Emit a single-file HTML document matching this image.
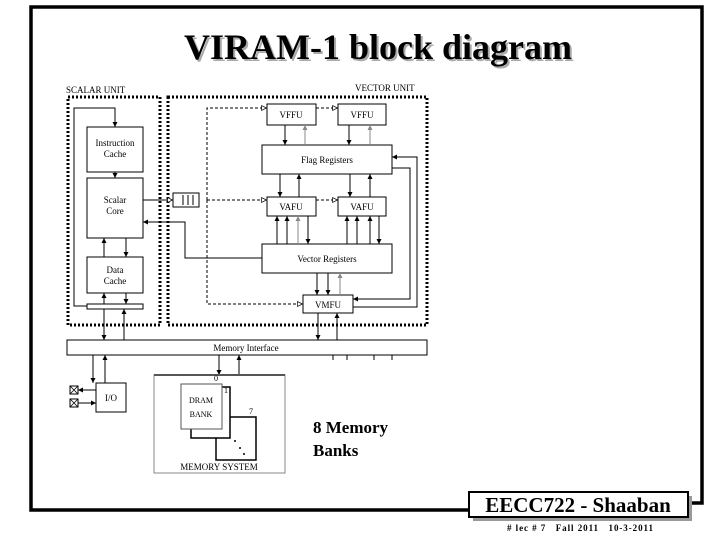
<!DOCTYPE html>
<html><head><meta charset="utf-8"><style>
html,body{margin:0;padding:0;background:#fff;}
svg{display:block;}
text{font-family:"Liberation Serif",serif;}
</style></head><body>
<svg width="720" height="540" viewBox="0 0 720 540" xmlns="http://www.w3.org/2000/svg">
<defs>
<marker id="a" viewBox="0 0 10 10" refX="10" refY="5" markerWidth="5" markerHeight="5" orient="auto"><path d="M0,0L10,5L0,10z" fill="#000"/></marker>
<marker id="g" viewBox="0 0 10 10" refX="10" refY="5" markerWidth="5" markerHeight="5" orient="auto"><path d="M0,0L10,5L0,10z" fill="#888"/></marker>
<marker id="o" viewBox="0 0 10 10" refX="10" refY="5" markerWidth="6" markerHeight="6" orient="auto"><path d="M1,1L9,5L1,9z" fill="#fff" stroke="#000" stroke-width="1.2"/></marker>
</defs>
<path d="M469,510 H31 V7 H702 V503 H688" fill="none" stroke="#000" stroke-width="3.5"/>
<text x="380" y="61" text-anchor="middle" font-size="36" font-weight="bold" fill="#aaa">VIRAM-1 block diagram</text>
<text x="378" y="59" text-anchor="middle" font-size="36" font-weight="bold">VIRAM-1 block diagram</text>

<g font-size="9">
<text x="66" y="93">SCALAR UNIT</text>
<text x="355" y="91">VECTOR UNIT</text>
</g>
<g fill="none" stroke="#000" stroke-width="3" stroke-dasharray="2,2">
<rect x="68" y="97" width="92" height="228"/>
<rect x="168" y="97" width="259" height="228"/>
</g>
<g fill="#fff" stroke="#000" stroke-width="1">
<rect x="87" y="127" width="56" height="45"/>
<rect x="87" y="178" width="56" height="60"/>
<rect x="87" y="257" width="56" height="36"/>
<rect x="87" y="304" width="56" height="5"/>
<rect x="267" y="104" width="49" height="21"/>
<rect x="338" y="104" width="48" height="21"/>
<rect x="262" y="145" width="130" height="29"/>
<rect x="267" y="197" width="49" height="19"/>
<rect x="338" y="197" width="48" height="19"/>
<rect x="262" y="244" width="130" height="29"/>
<rect x="303" y="295" width="50" height="18"/>
<rect x="67" y="340" width="360" height="15"/>
<rect x="173" y="193" width="26" height="14"/>
</g>
<g stroke="#000" stroke-width="1"><path d="M183,195V205M188,195V205M193,195V205"/></g>
<g font-size="9" text-anchor="middle">
<text x="115" y="146">Instruction</text><text x="115" y="157">Cache</text>
<text x="115" y="203">Scalar</text><text x="115" y="214">Core</text>
<text x="115" y="273">Data</text><text x="115" y="284">Cache</text>
<text x="291" y="118">VFFU</text><text x="362" y="118">VFFU</text>
<text x="327" y="163">Flag Registers</text>
<text x="291" y="210">VAFU</text><text x="362" y="210">VAFU</text>
<text x="327" y="262">Vector Registers</text>
<text x="328" y="308">VMFU</text>
<text x="246" y="351">Memory Interface</text>
</g>
<g fill="none" stroke="#000" stroke-width="1" marker-end="url(#a)">
<path d="M87,306H74V108H115V127"/>
<path d="M115,172V178"/>
<path d="M104,257V238"/><path d="M126,238V257"/>
<path d="M104,304V293"/><path d="M126,293V304"/>
<path d="M104,309V340"/><path d="M124,340V309"/>
<path d="M143,200H173" marker-end="url(#o)"/>
<path d="M262,258H185V222H143"/>
<path d="M285,125V145"/><path d="M349,125V145"/>
<path d="M280,174V197"/><path d="M299,197V174"/>
<path d="M350,174V197"/><path d="M370,197V174"/>
<path d="M277,244V216"/><path d="M287,244V216"/><path d="M308,216V244"/>
<path d="M347,244V216"/><path d="M357,244V216"/><path d="M370,244V216"/><path d="M379,216V244"/>
<path d="M317,273V295"/><path d="M328,273V295"/>
<path d="M318,313V340"/><path d="M337,340V313"/>
<path d="M392,168H410V299H353"/>
<path d="M353,307H417V157H392"/>
<path d="M93,355V383"/><path d="M105,383V355"/>
<path d="M219,355V375"/><path d="M239,375V355"/>
</g>
<g fill="none" stroke="#888" stroke-width="1" marker-end="url(#g)">
<path d="M305,145V125"/><path d="M370,145V125"/><path d="M298,244V216"/><path d="M340,295V273"/>
</g>
<g fill="none" stroke="#000" stroke-width="1" stroke-dasharray="3,2" marker-end="url(#o)">
<path d="M207,200H267"/><path d="M316,200H338"/>
<path d="M207,200V108H267"/><path d="M316,108H338"/>
<path d="M207,200V304H303"/>
</g>
<g stroke="#000" stroke-width="1"><path d="M333,355V360M347,355V360M374,355V360M392,355V360"/></g>
<rect x="96" y="383" width="30" height="29" fill="#fff" stroke="#000"/>
<text x="111" y="401" font-size="9" text-anchor="middle">I/O</text>
<g fill="#fff" stroke="#000" stroke-width="1">
<rect x="70" y="386" width="8" height="8"/><rect x="70" y="399" width="8" height="8"/>
</g>
<g stroke="#000" stroke-width="0.8"><path d="M70,386L78,394M78,386L70,394M70,399L78,407M78,399L70,407"/></g>
<g fill="none" stroke="#000" marker-end="url(#a)"><path d="M96,390H78"/><path d="M78,403H96"/></g>
<rect x="154" y="375" width="131" height="98" fill="#fff" stroke="#888"/>
<path d="M154,375H285" stroke="#555" stroke-width="2"/>
<rect x="216" y="417" width="40" height="43" fill="#fff" stroke="#000" stroke-width="1.5"/>
<rect x="191" y="387" width="39" height="51" fill="#fff" stroke="#000" stroke-width="1.5"/>
<rect x="181" y="384" width="41" height="45" fill="#fff" stroke="#555"/>
<g font-size="8"><text x="214" y="381">0</text><text x="224" y="393">1</text><text x="249" y="414">7</text>
<text x="201" y="403" text-anchor="middle">DRAM</text><text x="201" y="417" text-anchor="middle">BANK</text></g>
<g fill="#000"><circle cx="235" cy="441" r="1"/><circle cx="240" cy="448" r="1"/><circle cx="244" cy="454" r="1"/></g>
<text x="219" y="470" font-size="9" text-anchor="middle">MEMORY SYSTEM</text>
<g font-size="17" font-weight="bold"><text x="313" y="433">8 Memory</text><text x="313" y="456">Banks</text></g>
<rect x="473" y="496" width="219" height="25" fill="#999"/>
<rect x="469" y="492" width="219" height="25" fill="#fff" stroke="#000" stroke-width="2"/>
<text x="578" y="512" font-size="21" font-weight="bold" text-anchor="middle">EECC722 - Shaaban</text>
<text x="507" y="531" font-size="9" font-weight="bold" textLength="146" lengthAdjust="spacing" xml:space="preserve"># lec # 7   Fall 2011   10-3-2011</text>
</svg>
</body></html>
